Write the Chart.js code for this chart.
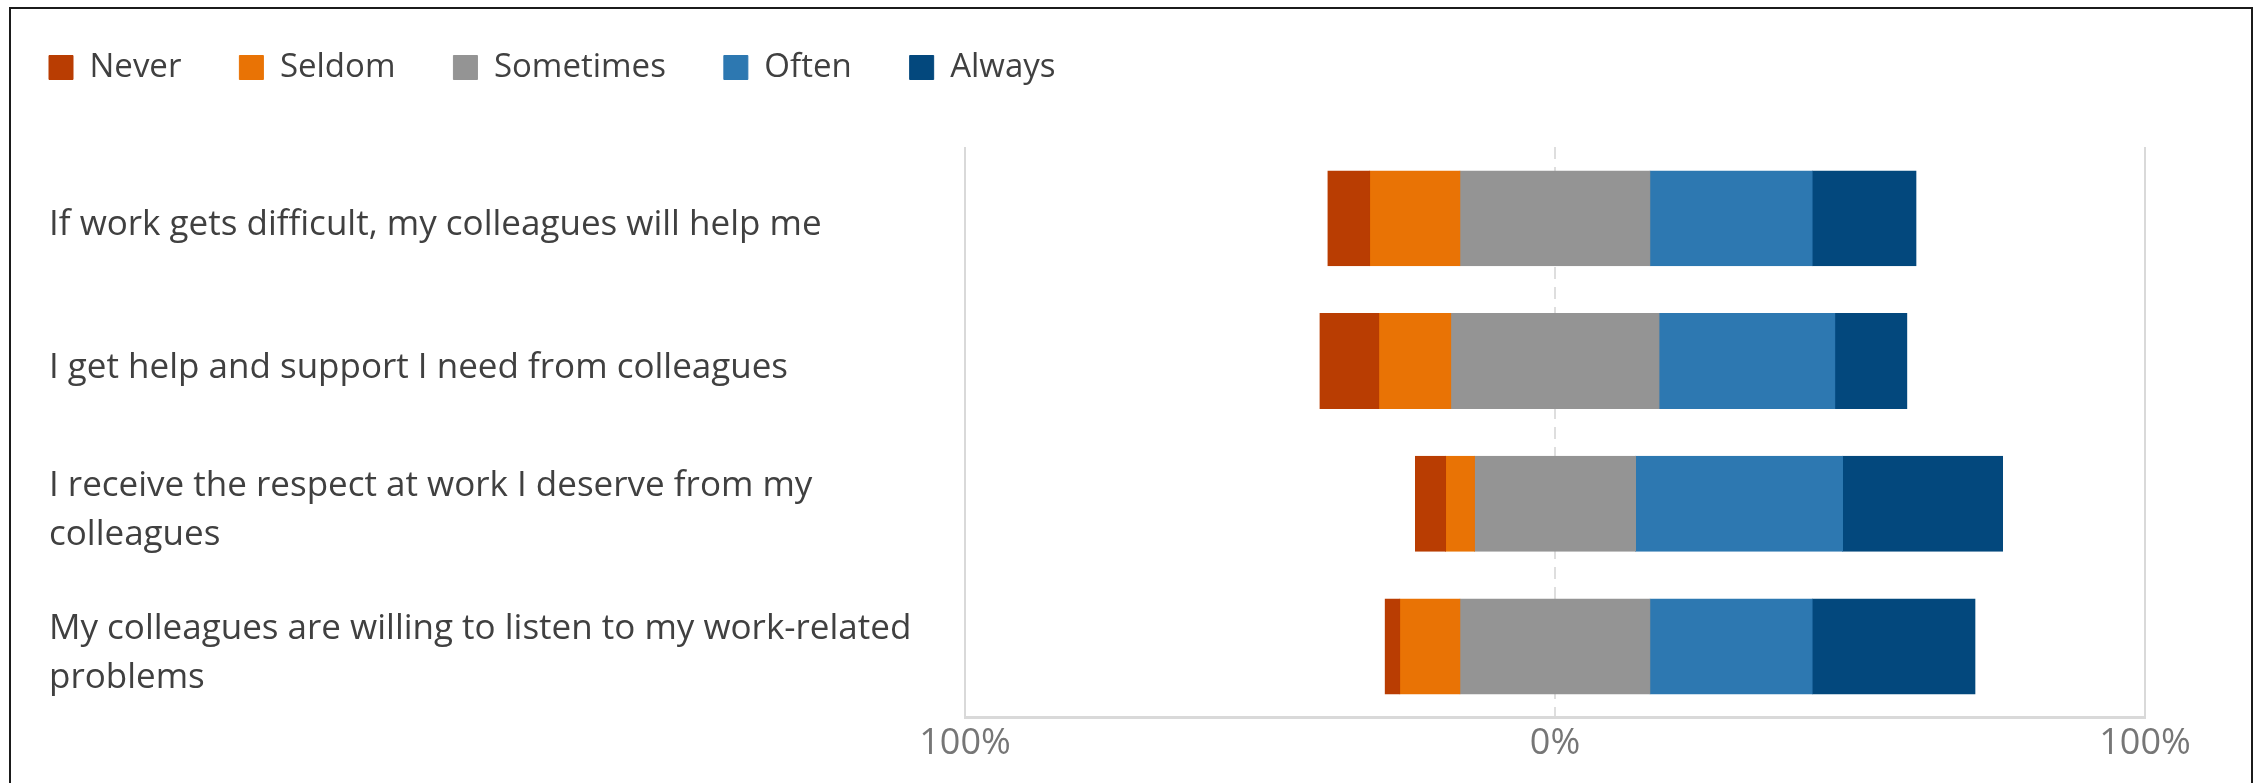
<!DOCTYPE html>
<html>
<head>
<meta charset="utf-8">
<script src="https://cdn.jsdelivr.net/npm/chart.js@4/dist/chart.umd.min.js"></script>
<style>
  html, body { margin: 0; padding: 0; background: #fff; }
  #wrap { position: absolute; left: 0; top: 0; width: 2262px; height: 783px; }
  #frame { position: absolute; left: 9px; top: 7px; width: 2240px; height: 820px;
           border: 2px solid #1b1b1b; border-bottom: none; pointer-events: none; }
</style>
</head>
<body>
<div id="wrap"><canvas id="chart"></canvas></div>
<div id="frame"></div>
<script>
// Questions on the y axis (wrapped like the original)
const questions = [
  'If work gets difficult, my colleagues will help me',
  'I get help and support I need from colleagues',
  ['I receive the respect at work I deserve from my', 'colleagues'],
  ['My colleagues are willing to listen to my work-related', 'problems']
];

// Share of answers per question, in %
const never     = [7.1, 10.0, 5.1, 2.5];
const seldom    = [15.3, 12.2, 4.9, 10.2];
const sometimes = [32.2, 35.3, 27.3, 32.2];
const often     = [27.5, 29.8, 35.1, 27.5];
const always    = [17.6, 12.2, 27.1, 27.6];

// Ticks of the x axis
const xTicks = [-100, 0, 100];

const colors = ['#B93D02', '#E97305', '#949494', '#2D78B1', '#03487D'];
const answers = ['Never', 'Seldom', 'Sometimes', 'Often', 'Always'];

const font = "'Open Sans', 'DejaVu Sans', sans-serif";

// Diverging bars: Sometimes sits centred on 0, the rest go outwards
const ranges = (i) => {
  const left2 = -sometimes[i] / 2;
  const left1 = left2 - seldom[i];
  const left0 = left1 - never[i];
  const right3 = sometimes[i] / 2 + often[i];
  return [
    [left0, left1],
    [left1, left2],
    [left2, sometimes[i] / 2],
    [sometimes[i] / 2, right3],
    [right3, right3 + always[i]]
  ];
};

// Put the legend where the original has it
const moveLegend = {
  id: 'moveLegend',
  afterLayout(chart) {
    const lg = chart.legend;
    const p = lg.options.labels.padding;
    lg.left = 49 - p;
    lg.top = 51 - p;
  }
};

const ctx = document.getElementById('chart').getContext('2d');

new Chart(ctx, {
  type: 'bar',
  data: {
    labels: questions,
    datasets: answers.map((name, k) => ({
      label: name,
      data: questions.map((_, i) => ranges(i)[k]),
      backgroundColor: colors[k],
      borderColor: colors[k],
      borderWidth: 1,
      borderSkipped: false,
      inflateAmount: 0.5,
      grouped: false,
      categoryPercentage: 1,
      barPercentage: 0.665
    }))
  },
  options: {
    indexAxis: 'y',
    responsive: true,
    maintainAspectRatio: false,
    animation: false,
    layout: { padding: { left: 49, right: 117, top: 46, bottom: 14 } },
    plugins: {
      tooltip: { enabled: false },
      legend: {
        position: 'top',
        align: 'start',
        labels: {
          boxWidth: 24,
          boxHeight: 24,
          padding: 58,
          color: '#404040',
          font: { family: font, size: 33 }
        }
      }
    },
    scales: {
      x: {
        min: -100,
        max: 100,
        afterBuildTicks: (scale) => { scale.ticks = xTicks.map(v => ({ value: v })); },
        ticks: {
          padding: 4,
          color: '#767676',
          font: { family: font, size: 36 },
          callback: (v) => Math.abs(v) + '%'
        },
        grid: {
          drawTicks: false,
          lineWidth: 2,
          color: (c) => (c.tick && c.tick.value === 0) ? '#dedede' : '#d9d9d9'
        },
        border: {
          display: true,
          color: '#d9d9d9',
          width: 3,
          dash: (c) => (c.tick && c.tick.value === 0) ? [12, 8] : []
        }
      },
      y: {
        afterFit: (scale) => { scale.width = 965 - 49; },
        grid: { display: false },
        border: { display: false },
        ticks: {
          crossAlign: 'far',
          labelOffset: 7,
          color: '#404040',
          font: { family: font, size: 35, lineHeight: 1.4 }
        }
      }
    }
  },
  plugins: [moveLegend]
});
</script>
</body>
</html>
